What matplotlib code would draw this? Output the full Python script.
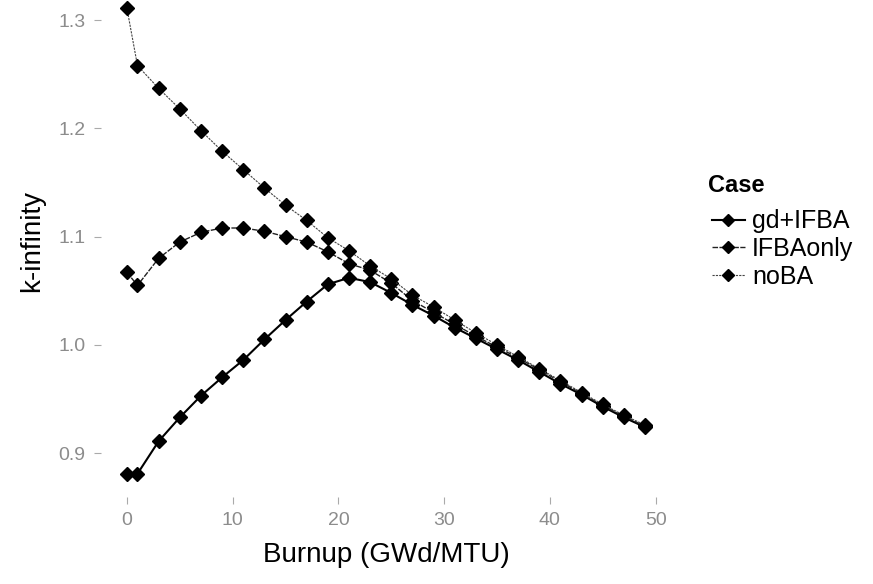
import matplotlib
matplotlib.use("Agg")
from matplotlib import pyplot as plt

plt.rcParams['font.family'] = ['Liberation Sans', 'DejaVu Sans']

# burnup steps (GWd/MTU)
burnup = [0, 1, 3, 5, 7, 9, 11, 13, 15, 17, 19, 21, 23, 25,
          27, 29, 31, 33, 35, 37, 39, 41, 43, 45, 47, 49]

gd_ifba = [0.881, 0.881, 0.911, 0.933, 0.953, 0.970, 0.986, 1.005, 1.023,
           1.040, 1.056, 1.062, 1.058, 1.048, 1.037, 1.027, 1.016, 1.006,
           0.996, 0.986, 0.975, 0.964, 0.954, 0.943, 0.933, 0.924]

ifba_only = [1.067, 1.055, 1.080, 1.095, 1.104, 1.108, 1.108, 1.105, 1.100,
             1.095, 1.086, 1.075, 1.069, 1.057, 1.041, 1.030, 1.019, 1.008,
             0.998, 0.988, 0.977, 0.966, 0.955, 0.944, 0.934, 0.925]

no_ba = [1.311, 1.258, 1.237, 1.218, 1.198, 1.179, 1.162, 1.145, 1.129,
         1.115, 1.099, 1.087, 1.073, 1.061, 1.046, 1.035, 1.023, 1.011,
         1.000, 0.989, 0.978, 0.967, 0.956, 0.945, 0.935, 0.926]

cases = ["gd+IFBA", "IFBAonly", "noBA"]
series = [gd_ifba, ifba_only, no_ba]
line_w = [1.5, 1.0, 0.8]
line_c = ["#000000", "#222222", "#444444"]
line_s = ["-", (0, (4, 1)), (0, (2, 1))]

xticks = [0, 10, 20, 30, 40, 50]
yticks = [0.9, 1.0, 1.1, 1.2, 1.3]

fig = plt.figure(figsize=(8.73, 5.84), dpi=100)
ax = fig.add_axes([0.1157, 0.149, 0.6529, 0.8767])

for name, ys, lw, c, ls in zip(cases, series, line_w, line_c, line_s):
    ax.plot(burnup, ys, color=c, lw=lw, ls=ls, marker='D', markersize=7,
            markerfacecolor='black', markeredgecolor='black', label=name)

ax.set_xlim(-2.45, 51.45)
ax.set_ylim(0.8595, 1.3325)
ax.set_xticks(xticks)
ax.set_yticks(yticks)
ax.set_yticklabels([f"{v:.1f}" for v in yticks])

for s in ax.spines.values():
    s.set_visible(False)
ax.tick_params(axis='both', colors='#aaaaaa', labelcolor='#8c8c8c',
               labelsize=14, length=5, width=0.8, pad=6)

ax.set_xlabel("Burnup (GWd/MTU)", fontsize=20, labelpad=9)
ax.set_ylabel("k-infinity", fontsize=20, labelpad=10)

# legend title drawn on its own, entries below it
fig.text(708 / 873, 1 - 185 / 584, "Case", fontsize=17, fontweight='bold',
         ha='left', va='center')
leg = fig.legend(loc='upper left', bbox_to_anchor=(0.79, 0.68),
                 frameon=False, fontsize=18,
                 handlelength=1.3, handletextpad=0.3, labelspacing=0.15,
                 markerscale=0.9)

fig.savefig("out.png", dpi=100)
